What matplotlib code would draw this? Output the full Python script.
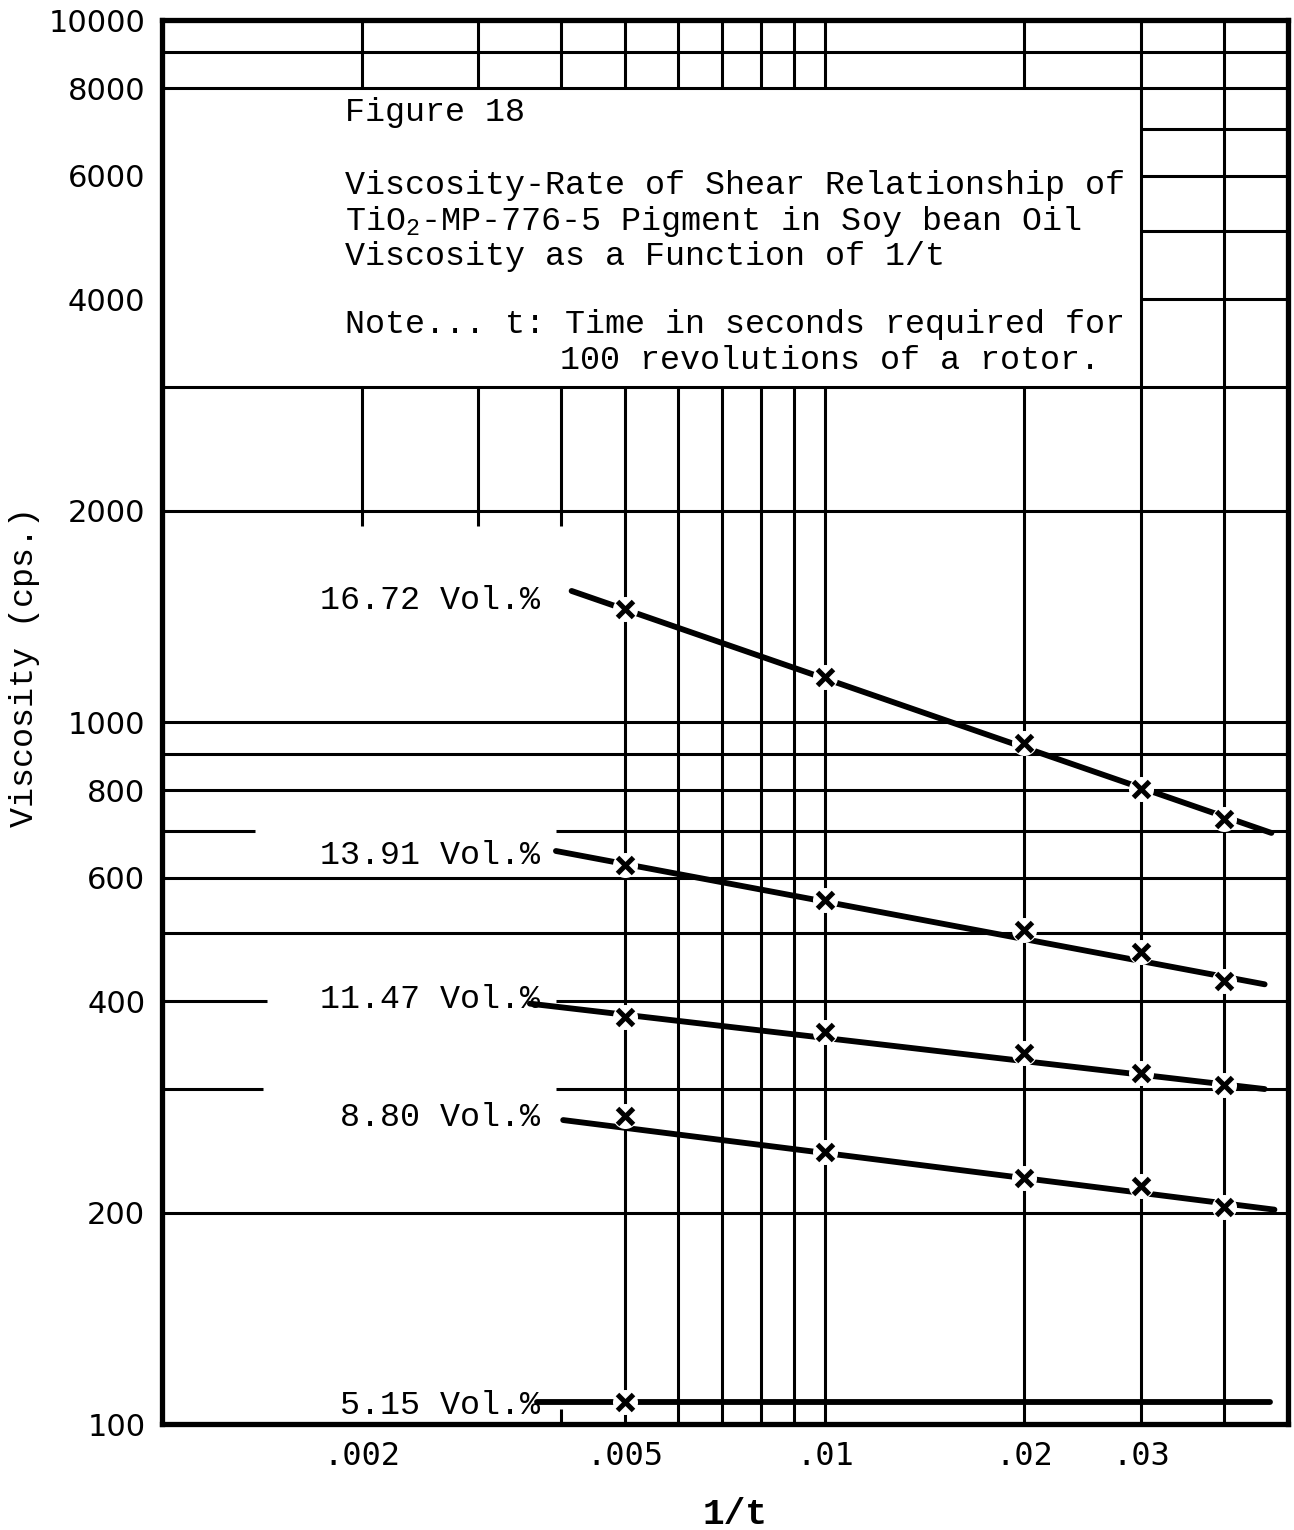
import matplotlib.pyplot as plt

# 1/t values at which the rotor readings were taken
inv_t = [0.005, 0.01, 0.02, 0.03, 0.04]
inv_t_515 = [0.005]

# viscosity (cps.) for each pigment loading
visc_1672 = [1449, 1159, 933, 803, 728]
visc_1391 = [625, 557, 505, 470, 427]
visc_1147 = [380, 362, 338, 316, 304]
visc_880 = [275, 244, 224, 218, 204]
visc_515 = [107.5]

series_names = ["16.72 Vol.%", "13.91 Vol.%", "11.47 Vol.%", "8.80 Vol.%", "5.15 Vol.%"]

# hand-drawn straight lines through each set of readings (start, end)
fit_x = [(0.00415, 0.0472), (0.00393, 0.0461), (0.00359, 0.0461),
         (0.00403, 0.0477), (0.00368, 0.0469)]
fit_y = [(1537, 695), (655, 423), (397, 300), (271, 202), (107.5, 107.5)]

yticks = [100, 200, 400, 600, 800, 1000, 2000, 4000, 6000, 8000, 10000]
ytick_labels = ["100", "200", "400", "600", "800", "1000", "2000", "4000", "6000", "8000", "10000"]
xticks = [0.002, 0.005, 0.01, 0.02, 0.03]
xtick_labels = [".002", ".005", ".01", ".02", ".03"]

XMIN, XMAX = 0.001, 0.05
YMIN, YMAX = 100, 10000

# graph paper rulings (the title card covers part of the sheet)
h_full = [9000, 8000, 3000, 2000, 1000, 900, 800, 600, 500, 200]
h_right = [7000, 6000, 5000, 4000]
h_split = {700: 0.00138, 400: 0.00144, 300: 0.00142}
v_short = [0.002, 0.003, 0.004]
v_mid = [0.005, 0.006, 0.007, 0.008, 0.009, 0.01, 0.02]
v_full = [0.03, 0.04]

TYPE = "Liberation Mono"
GRID_LW = 2.2

fig = plt.figure(figsize=(12.94, 15.3), dpi=100)
ax = fig.add_axes([162 / 1294, 106 / 1530, 1126 / 1294, 1404 / 1530])
ax.set_xscale("log")
ax.set_yscale("log")
ax.set_xlim(XMIN, XMAX)
ax.set_ylim(YMIN, YMAX)


def px(x, y):
    # layout helper: pixel position on the sheet -> axes fraction
    return (x - 162) / 1126, (1424 - y) / 1404


grid_kw = dict(color="black", lw=GRID_LW, zorder=1)
for y in h_full:
    ax.hlines(y, XMIN, XMAX, **grid_kw)
for y in h_right:
    ax.hlines(y, 0.03, XMAX, **grid_kw)
for y, left_end in h_split.items():
    ax.hlines(y, XMIN, left_end, **grid_kw)
    ax.hlines(y, 0.00393, XMAX, **grid_kw)
for x in v_short:
    ax.vlines(x, 8000, YMAX, **grid_kw)
    ax.vlines(x, 1900, 3000, **grid_kw)
for x in v_mid:
    ax.vlines(x, 8000, YMAX, **grid_kw)
    ax.vlines(x, YMIN, 3000, **grid_kw)
for x in v_full:
    ax.vlines(x, YMIN, YMAX, **grid_kw)
ax.vlines(0.004, YMIN, 105, **grid_kw)

# readings and their lines
all_x = [inv_t, inv_t, inv_t, inv_t, inv_t_515]
all_y = [visc_1672, visc_1391, visc_1147, visc_880, visc_515]
label_y = [600, 855, 1000, 1118, 1405]
for xs, ys, lx, ly, name, ty in zip(all_x, all_y, fit_x, fit_y, series_names, label_y):
    ax.plot(lx, ly, color="black", lw=4.2, solid_capstyle="round", zorder=2)
    ax.plot(xs, ys, ls="none", marker="o", ms=18, mfc="white", mec="none", zorder=3)
    ax.plot(xs, ys, ls="none", marker="x", ms=11, mew=3.6, color="black", zorder=4)
    ax.text(*px(540, ty), name, transform=ax.transAxes, ha="right", va="center",
            fontsize=24, family=TYPE, zorder=5)

# title card
plt.rcParams["mathtext.fontset"] = "custom"
plt.rcParams["mathtext.rm"] = TYPE
title_lines = [
    (345, 121, "Figure 18"),
    (345, 194, "Viscosity-Rate of Shear Relationship of"),
    (345, 230, "TiO$_2$-MP-776-5 Pigment in Soy bean Oil"),
    (345, 265, "Viscosity as a Function of 1/t"),
    (345, 333, "Note... t: Time in seconds required for"),
    (560, 369, "100 revolutions of a rotor."),
]
for tx, ty, s in title_lines:
    ax.text(*px(tx, ty), s, transform=ax.transAxes, ha="left", va="baseline",
            fontsize=24, family=TYPE, zorder=5)

ax.set_yticks(yticks)
ax.set_yticklabels(ytick_labels, fontsize=22, family="DejaVu Sans")
ax.set_xticks(xticks)
ax.set_xticklabels(xtick_labels, fontsize=23, family="DejaVu Sans Mono")
ax.minorticks_off()
ax.tick_params(axis="y", length=0, pad=12)
ax.tick_params(axis="x", length=0, pad=12)

ax.set_ylabel("Viscosity (cps.)", fontsize=24, family=TYPE)
ax.yaxis.set_label_coords(*px(25, 667))
ax.yaxis.label.set_va("center")
ax.set_xlabel("1/t", fontsize=26, family=TYPE, fontweight="bold")
ax.xaxis.set_label_coords(*px(735, 1515))
ax.xaxis.label.set_va("center")

for sp in ax.spines.values():
    sp.set_linewidth(3.8)
    sp.set_zorder(6)

fig.savefig("out.png", dpi=100)
plt.close(fig)
